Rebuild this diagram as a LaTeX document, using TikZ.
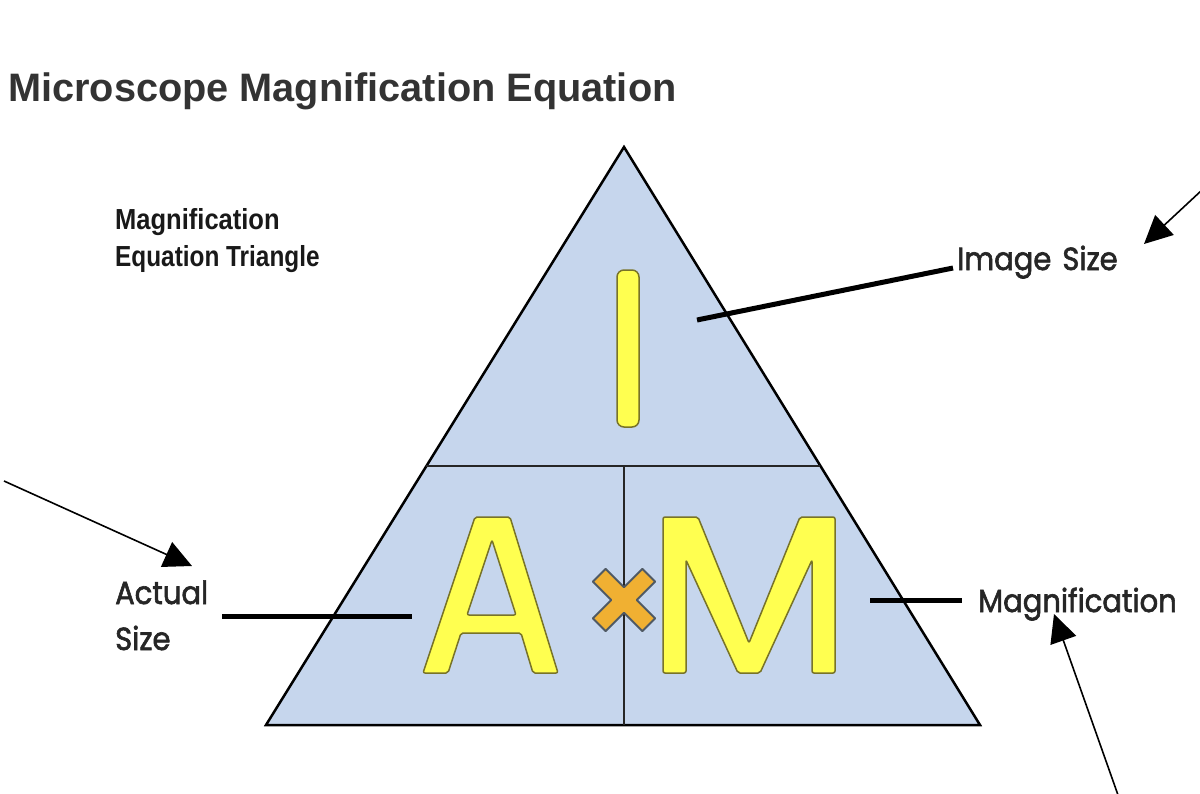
\documentclass[tikz,border=0pt]{standalone}
\usepackage{fontspec}
\setmainfont{Liberation Sans}
\newfontfamily\comicfont{Poppins}[FakeBold=2]
\usetikzlibrary{arrows.meta}
\definecolor{triblue}{RGB}{198,214,237}
\definecolor{letteryellow}{RGB}{255,255,80}
\definecolor{letteredge}{RGB}{120,115,40}
\definecolor{crossorange}{RGB}{240,176,50}
\definecolor{crossedge}{RGB}{80,90,100}
\definecolor{titlegray}{RGB}{51,51,51}
\begin{document}
\begin{tikzpicture}[x=1pt,y=-1pt,
  edge/.style={draw=black,line width=2.5pt,line join=miter},
  divider/.style={draw=black!85,line width=2pt},
  letter/.style={fill=letteryellow,draw=letteredge,line width=1.5pt,line join=round,rounded corners=2pt,even odd rule},
  leader/.style={draw=black,line width=5pt},
  pointer/.style={draw=black,line width=1.6pt,-{Triangle[length=28pt,width=27pt]}},
  comic/.style={font=\comicfont\fontsize{29}{32}\selectfont,text=black!85,inner sep=0pt,anchor=base west},
  narrow/.style={font=\bfseries\fontsize{29}{29}\selectfont,text=black!90,inner sep=0pt,anchor=base west},
]
\useasboundingbox (0,0) rectangle (1200,793);
\fill[white] (0,0) rectangle (1200,793);

% title
\node[font=\bfseries\fontsize{39.7}{40}\selectfont,text=titlegray,inner sep=0pt,anchor=base west] (title) at (8,101) {Microscope Magnification Equation};

% triangle
\coordinate (apex) at (624,147);
\coordinate (bl) at (266,725);
\coordinate (br) at (980,725);
\coordinate (hl) at (426,466);
\coordinate (hr) at (820,466);
\coordinate (vt) at (624,466);
\coordinate (vb) at (624,725);
\filldraw[fill=triblue,edge] (apex) -- (bl) -- (br) -- cycle;
\draw[divider] (hl) -- (hr);
\draw[divider] (vt) -- (vb);

% letters
\draw[letter,rounded corners=7pt] (617,270) rectangle (639,427);
\draw[letter] (475,517) -- (510,517) -- (558,673) -- (533,673) -- (521,633) -- (461,633) -- (448,673) -- (423,673) -- cycle
  (492,540) -- (516,615) -- (467,615) -- cycle;
\draw[letter] (663,673) -- (663,517) -- (698,517) -- (749,643) -- (800,517) -- (835,517) -- (835,673) -- (812,673) -- (812,560) -- (760,673) -- (738,673) -- (686,560) -- (686,673) -- cycle;
\begin{scope}[shift={(624,600)},rotate=45]
\draw[fill=crossorange,draw=crossedge,line width=2pt,line join=round]
  (9,35) -- (9,9) -- (35,9) -- (35,-9) -- (9,-9) -- (9,-35) -- (-9,-35) -- (-9,-9) -- (-35,-9) -- (-35,9) -- (-9,9) -- (-9,35) -- cycle;
\end{scope}

% labels
\node[narrow] (eqtri1) at (115,229) {\scalebox{0.88}[1]{Magnification}};
\node[narrow] (eqtri2) at (115,266) {\scalebox{0.84}[1]{Equation Triangle}};
\node[comic] (imgsize) at (957,270) {\scalebox{1}[1.1]{Image\hspace{11pt}Size}};
\node[comic] (actual) at (115,604) {\scalebox{1}[1.1]{Actual}};
\node[comic] (actsize) at (115,650) {\scalebox{1}[1.1]{Size}};
\node[comic] (magn) at (978,612) {\scalebox{1}[1.1]{Magnification}};

% leaders
\coordinate (imgtip) at (697,320);
\coordinate (imgend) at (953,268);
\draw[leader] (imgtip) -- (imgend);
\coordinate (acttip) at (412,616);
\coordinate (actend) at (222,616);
\draw[leader] (actend) -- (acttip);
\coordinate (magtip) at (870,600);
\coordinate (magend) at (962,600);
\draw[leader] (magtip) -- (magend);

% pointers
\coordinate (p1s) at (1202,190);
\coordinate (p1e) at (1144,244);
\draw[pointer] (p1s) -- (p1e);
\coordinate (p2s) at (4,481);
\coordinate (p2e) at (192,566);
\draw[pointer] (p2s) -- (p2e);
\coordinate (p3s) at (1118,795);
\coordinate (p3e) at (1054,614);
\draw[pointer] (p3s) -- (p3e);
\end{tikzpicture}
\end{document}
